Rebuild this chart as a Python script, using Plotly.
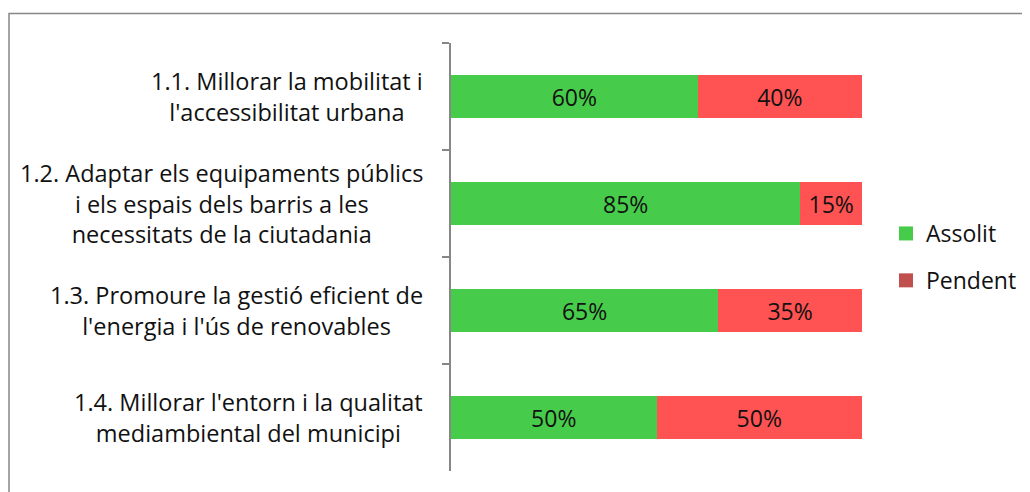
import plotly.graph_objects as go

categories = [
    "1.1. Millorar la mobilitat i<br>l'accessibilitat urbana",
    "1.2. Adaptar els equipaments públics<br>i els espais dels barris a les<br>necessitats de la ciutadania",
    "1.3. Promoure la gestió eficient de<br>l'energia i l'ús de renovables",
    "1.4. Millorar l'entorn i la qualitat<br>mediambiental del municipi",
]
assolit = [0.60, 0.85, 0.65, 0.50]
pendent = [0.40, 0.15, 0.35, 0.50]

GREEN = "#46CC4A"
RED = "#FF5252"
RED_LEGEND = "#C0504D"
FONT = "Open Sans"
TXT = "#111111"

W, H = 1022, 484
L, R, T, B = 443, 168, 35, 21
PW, PH = W - L - R, H - T - B

fig = go.Figure()
fig.add_trace(go.Bar(
    y=categories, x=assolit, orientation="h", name="Assolit",
    marker=dict(color=GREEN, line=dict(width=0)),
    texttemplate="%{x:.0%}", textposition="inside", insidetextanchor="middle",
    textfont=dict(color=TXT, size=23, family=FONT),
    showlegend=False, constraintext="none",
))
fig.add_trace(go.Bar(
    y=categories, x=pendent, orientation="h", name="Pendent",
    marker=dict(color=RED, line=dict(width=0)),
    texttemplate="%{x:.0%}", textposition="inside", insidetextanchor="middle",
    textfont=dict(color=TXT, size=23, family=FONT),
    showlegend=False, constraintext="none",
))
# legend-only entries
fig.add_trace(go.Scatter(y=[None], x=[None], mode="markers", name="Assolit",
                         marker=dict(color=GREEN, symbol="square", size=14),
                         legendgroup="a", hoverinfo="skip"))
fig.add_trace(go.Scatter(y=[None], x=[None], mode="markers", name="Pendent",
                         marker=dict(color=RED_LEGEND, symbol="square", size=14),
                         legendgroup="b", hoverinfo="skip"))

for c in categories:
    fig.add_annotation(
        x=-26 / PW, xref="paper", y=c, yref="y", text=c, showarrow=False,
        xanchor="right", yanchor="middle", align="center",
        font=dict(family=FONT, size=23.5, color=TXT),
    )

# outer chart border
fig.add_shape(type="rect", xref="paper", yref="paper",
              x0=(1 - L) / PW, x1=(W + 20 - L) / PW,
              y0=-40 / PH, y1=1 + (T - 5.5) / PH,
              line=dict(color="#878787", width=1.5), fillcolor="rgba(0,0,0,0)", layer="below")

fig.update_layout(
    width=W, height=H,
    margin=dict(l=L, r=R, t=T, b=B),
    barmode="stack", bargap=0.6,
    paper_bgcolor="white", plot_bgcolor="white",
    font=dict(family=FONT, size=23, color=TXT),
    legend=dict(xref="container", yref="container", x=878 / W, xanchor="left",
                y=1 - 249 / H, yanchor="middle",
                traceorder="grouped", tracegroupgap=14,
                font=dict(family=FONT, size=23, color=TXT),
                itemwidth=30),
    xaxis=dict(range=[0, 1], visible=False, fixedrange=True),
    yaxis=dict(autorange="reversed", showticklabels=False, ticks="outside",
               tickson="boundaries", ticklen=7, tickcolor="#878787", tickwidth=1.5,
               showline=True, linecolor="#878787", linewidth=1.5, showgrid=False,
               zeroline=False),
)

fig.write_html("out.html")
